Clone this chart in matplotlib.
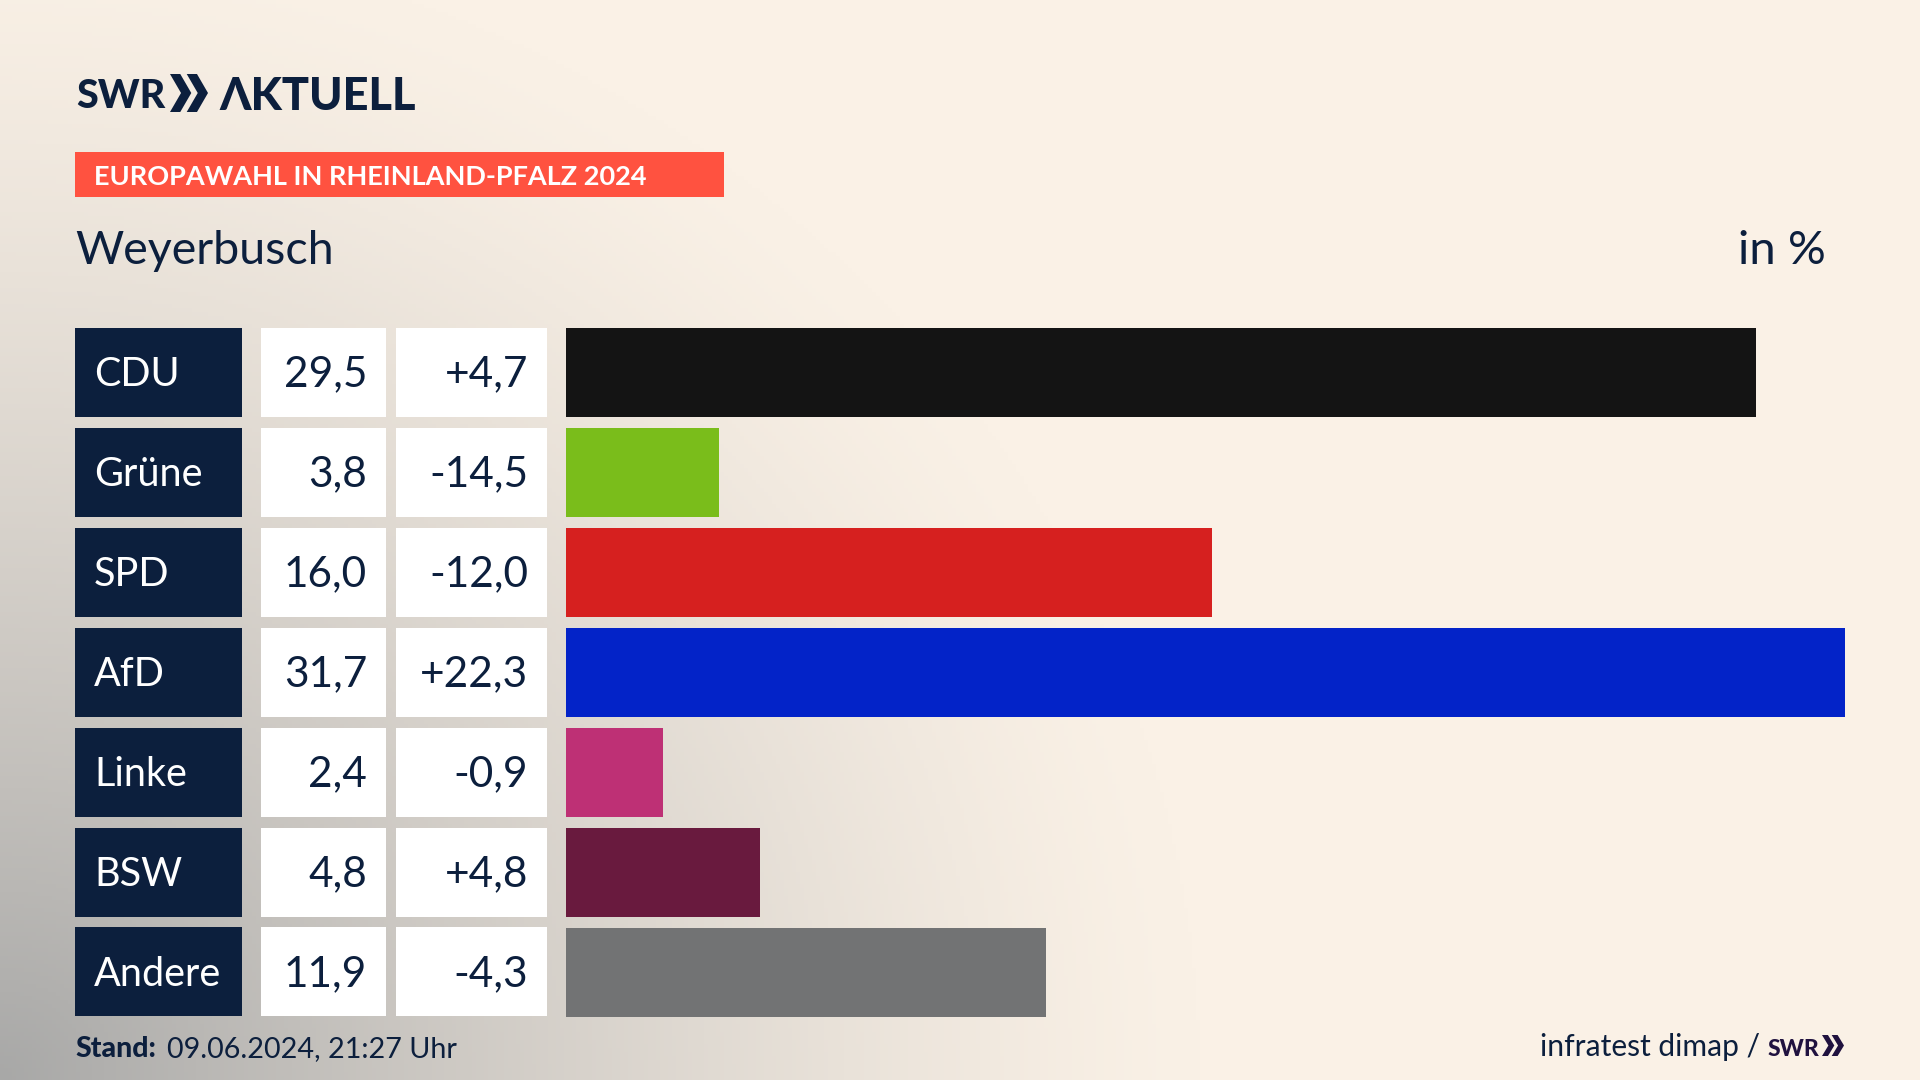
import numpy as np
import matplotlib
matplotlib.use("Agg")
from matplotlib import pyplot as plt
from matplotlib.patches import Polygon, Rectangle

parties = ["CDU", "Grüne", "SPD", "AfD", "Linke", "BSW", "Andere"]
shares = [29.5, 3.8, 16.0, 31.7, 2.4, 4.8, 11.9]
changes = ["+4,7", "-14,5", "-12,0", "+22,3", "-0,9", "+4,8", "-4,3"]
colors = ["#141414", "#7abd1b", "#d6201f", "#0323c8", "#be3075", "#691a3e", "#727374"]

NAVY = "#0c1f3d"
CREAM = np.array([250, 241, 230]) / 255
GREY = np.array([168, 168, 167]) / 255
LOGO = ["Lato", "Liberation Sans"]

plt.rcParams["font.family"] = ["Lato", "DejaVu Sans"]

fig = plt.figure(figsize=(19.2, 10.8), dpi=100)

# whole figure in pixels, for the background, cells and texts
bg = fig.add_axes([0, 0, 1, 1])
bg.set_xlim(0, 1920)
bg.set_ylim(1080, 0)
bg.axis("off")

xx, yy = np.meshgrid(np.linspace(0, 1920, 480), np.linspace(0, 1080, 270))
d = np.sqrt((xx / 1200) ** 2 + ((1080 - yy) / 1150) ** 2)
mix = np.clip(1 - d, 0, 1)[..., None] ** 1.3
bg.imshow(CREAM * (1 - mix) + GREY * mix, extent=(0, 1920, 1080, 0), aspect="auto", zorder=0)


def chevrons(x, y, w, h, color):
    # the two arrows of the logo
    step = w * 0.44
    for i in range(2):
        x0 = x + i * step
        pts = [(x0, y), (x0 + w * 0.27, y), (x0 + w * 0.56, y + h / 2),
               (x0 + w * 0.27, y + h), (x0, y + h), (x0 + w * 0.29, y + h / 2)]
        bg.add_patch(Polygon(pts, closed=True, fc=color, ec="none", zorder=3))


# header
bg.text(76, 108, "SWR", family=LOGO, weight="black", fontsize=28.5, color=NAVY, va="baseline")
chevrons(170, 74, 38, 38, NAVY)
bg.text(219, 110, "ΛKTUELL", family=LOGO, weight="black", fontsize=32.5, color=NAVY, va="baseline")

bg.add_patch(Rectangle((75, 152), 649, 45, fc="#ff5240", ec="none", zorder=1))
bg.text(94, 185, "EUROPAWAHL IN RHEINLAND-PFALZ 2024", weight="bold", fontsize=19.5,
        color="white", va="baseline")
bg.text(75, 264, "Weyerbusch", fontsize=33.6, color=NAVY, va="baseline")
bg.text(1826, 264, "in %", fontsize=34, color=NAVY, va="baseline", ha="right")

# table cells
for i, (party, share, change) in enumerate(zip(parties, shares, changes)):
    top = 328 + 99.9 * i
    base = top + 58.5
    bg.add_patch(Rectangle((75, top), 167, 89, fc=NAVY, ec="none", zorder=1))
    bg.add_patch(Rectangle((261, top), 125, 89, fc="white", ec="none", zorder=1))
    bg.add_patch(Rectangle((396, top), 151, 89, fc="white", ec="none", zorder=1))
    bg.text(94, base, party, fontsize=28.5, color="white", va="baseline")
    bg.text(367, base, f"{share:.1f}".replace(".", ","), fontsize=30.5, color=NAVY,
            va="baseline", ha="right")
    bg.text(528, base, change, fontsize=30.5, color=NAVY, va="baseline", ha="right")

# footer
bg.text(75, 1057, "Stand:", weight="black", fontsize=20.5, color=NAVY, va="baseline")
bg.text(167, 1057, "09.06.2024, 21:27 Uhr", fontsize=20.7, color=NAVY, va="baseline")
bg.text(1760, 1056, "infratest dimap /", fontsize=21.6, color=NAVY, va="baseline", ha="right")
bg.text(1768, 1056, "SWR", family=LOGO, weight="black", fontsize=16.5, color="#20123f", va="baseline")
chevrons(1822, 1035, 22, 21, "#20123f")

# bars
ax = fig.add_axes([566 / 1920, 1 - 1022.5 / 1080, (1845 - 566) / 1920, 700 / 1080])
ax.patch.set_alpha(0)
ax.barh(range(len(parties)), shares, height=0.885, color=colors)
ax.set_xlim(0, 31.7)
ax.set_ylim(6.5, -0.5)
ax.axis("off")

fig.savefig("out.png", dpi=100)
